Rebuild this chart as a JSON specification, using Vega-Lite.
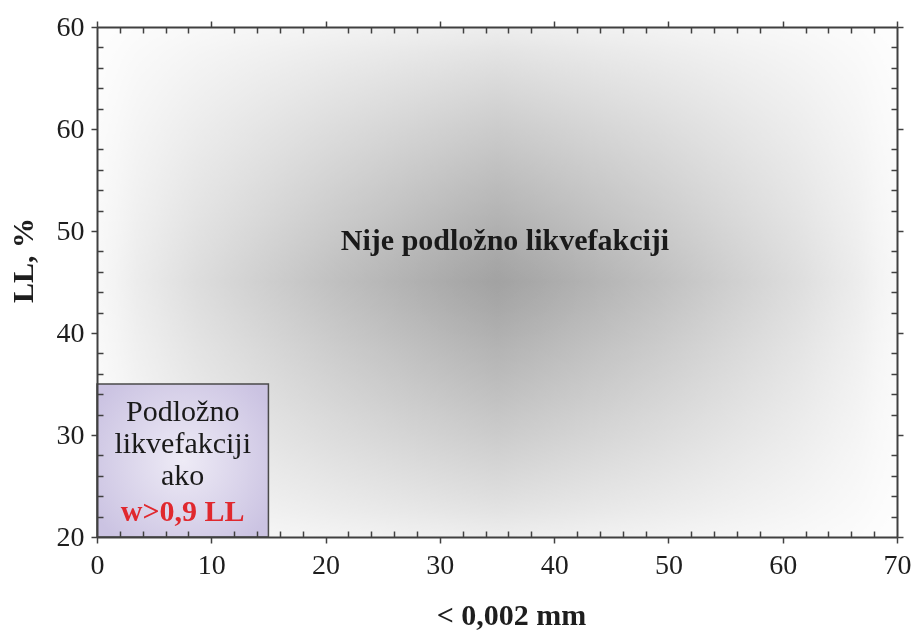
{
  "$schema": "https://vega.github.io/schema/vega-lite/v6.json",
  "width": 800,
  "height": 510,
  "autosize": {"type": "none"},
  "padding": {"left": 97, "top": 27, "right": 14, "bottom": 94},
  "background": "white",
  "config": {
    "view": {"stroke": null},
    "axis": {
      "grid": false,
      "zindex": 2,
      "domainColor": "#404040",
      "domainWidth": 2,
      "tickColor": "#404040",
      "tickWidth": 1.5,
      "labelFont": "Liberation Serif",
      "labelFontSize": 28,
      "labelColor": "#1e1e1e",
      "labelOverlap": false,
      "labelFlush": false,
      "titleFont": "Liberation Serif",
      "titleFontSize": 30,
      "titleFontWeight": "bold",
      "titleColor": "#1e1e1e"
    }
  },
  "datasets": {
    "zone": [{"x0": 0, "x1": 70, "y0": 20, "y1": 70}],
    "box": [{"x0": 0, "x1": 15, "y0": 20, "y1": 35}],
    "main_label": [{"label": "Nije podložno likvefakciji", "x": 35.7, "y": 48.1}],
    "box_lines": [
      {"label": "Podložno", "x": 7.5, "y": 31.4},
      {"label": "likvefakciji", "x": 7.5, "y": 28.25},
      {"label": "ako", "x": 7.5, "y": 25.05}
    ],
    "box_condition": [{"label": "w>0,9 LL", "x": 7.5, "y": 21.6}]
  },
  "layer": [
    {
      "data": {"name": "zone"},
      "mark": {
        "type": "rect",
        "fill": {
          "gradient": "linear",
          "x1": 0, "y1": 0, "x2": 1, "y2": 0,
          "stops": [
            {"offset": 0, "color": "#f3f3f3"},
            {"offset": 0.025, "color": "#ebebeb"},
            {"offset": 0.05, "color": "#e0e0e0"},
            {"offset": 0.075, "color": "#d8d8d8"},
            {"offset": 0.125, "color": "#c7c7c7"},
            {"offset": 0.2, "color": "#b2b2b2"},
            {"offset": 0.25, "color": "#a4a4a4"},
            {"offset": 0.3, "color": "#969696"},
            {"offset": 0.375, "color": "#838383"},
            {"offset": 0.45, "color": "#707070"},
            {"offset": 0.5, "color": "#656565"},
            {"offset": 0.55, "color": "#707070"},
            {"offset": 0.625, "color": "#838383"},
            {"offset": 0.7, "color": "#969696"},
            {"offset": 0.75, "color": "#a4a4a4"},
            {"offset": 0.8, "color": "#b2b2b2"},
            {"offset": 0.875, "color": "#c7c7c7"},
            {"offset": 0.925, "color": "#d8d8d8"},
            {"offset": 0.95, "color": "#e0e0e0"},
            {"offset": 0.975, "color": "#ebebeb"},
            {"offset": 1, "color": "#f3f3f3"}
          ]
        }
      },
      "encoding": {
        "x": {
          "field": "x0", "type": "quantitative",
          "scale": {"domain": [0, 70], "nice": false, "zero": false},
          "axis": {
            "orient": "bottom",
            "zindex": 2,
            "values": [0, 10, 20, 30, 40, 50, 60, 70],
            "tickSize": 6,
            "labelPadding": 8,
            "title": "< 0,002 mm",
            "titleX": 414,
            "titleY": 87,
            "titleAlign": "center",
            "titleBaseline": "alphabetic"
          }
        },
        "x2": {"field": "x1"},
        "y": {
          "field": "y0", "type": "quantitative",
          "scale": {"domain": [20, 70], "nice": false, "zero": false},
          "axis": {
            "orient": "left",
            "zindex": 2,
            "values": [20, 30, 40, 50, 60, 70],
            "labelExpr": "datum.value == 70 ? '60' : datum.label",
            "tickSize": 6,
            "labelPadding": 7,
            "title": "LL, %",
            "titleX": -74,
            "titleY": 233,
            "titleAlign": "center",
            "titleBaseline": "middle"
          }
        },
        "y2": {"field": "y1"}
      }
    },
    {
      "data": {"name": "zone"},
      "mark": {
        "type": "rect",
        "blend": "screen",
        "fill": {
          "gradient": "linear",
          "x1": 0, "y1": 0, "x2": 0, "y2": 1,
          "stops": [
            {"offset": 0, "color": "#e2e2e2"},
            {"offset": 0.025, "color": "#dadada"},
            {"offset": 0.05, "color": "#d1d1d1"},
            {"offset": 0.075, "color": "#cacaca"},
            {"offset": 0.125, "color": "#bdbdbd"},
            {"offset": 0.2, "color": "#aaaaaa"},
            {"offset": 0.25, "color": "#9e9e9e"},
            {"offset": 0.3, "color": "#929292"},
            {"offset": 0.375, "color": "#818181"},
            {"offset": 0.45, "color": "#6f6f6f"},
            {"offset": 0.5, "color": "#656565"},
            {"offset": 0.55, "color": "#6f6f6f"},
            {"offset": 0.625, "color": "#818181"},
            {"offset": 0.7, "color": "#929292"},
            {"offset": 0.75, "color": "#9e9e9e"},
            {"offset": 0.8, "color": "#aaaaaa"},
            {"offset": 0.875, "color": "#bdbdbd"},
            {"offset": 0.925, "color": "#cacaca"},
            {"offset": 0.95, "color": "#d1d1d1"},
            {"offset": 0.975, "color": "#dadada"},
            {"offset": 1, "color": "#e2e2e2"}
          ]
        }
      },
      "encoding": {
        "x": {
          "field": "x0", "type": "quantitative",
          "scale": {"domain": [0, 70], "nice": false, "zero": false},
          "axis": {
            "orient": "bottom",
            "zindex": 2,
            "values": [2, 4, 6, 8, 12, 14, 16, 18, 22, 24, 26, 28, 32, 34, 36, 38, 42, 44, 46, 48, 52, 54, 56, 58, 62, 64, 66, 68],
            "offset": -6,
            "tickSize": 6,
            "domain": false,
            "labels": false,
            "title": null
          }
        },
        "x2": {"field": "x1"},
        "y": {
          "field": "y0", "type": "quantitative",
          "scale": {"domain": [20, 70], "nice": false, "zero": false},
          "axis": {
            "orient": "left",
            "zindex": 2,
            "values": [22, 24, 26, 28, 32, 34, 36, 38, 42, 44, 46, 48, 52, 54, 56, 58, 62, 64, 66, 68],
            "offset": -6,
            "tickSize": 6,
            "domain": false,
            "labels": false,
            "title": null
          }
        },
        "y2": {"field": "y1"}
      }
    },
    {
      "data": {"name": "box"},
      "mark": {
        "type": "rect",
        "stroke": "#4a4a4a",
        "strokeWidth": 1.5,
        "fill": {
          "gradient": "radial",
          "x1": 0.5, "y1": 0.5, "r1": 0,
          "x2": 0.5, "y2": 0.5, "r2": 0.6,
          "stops": [
            {"offset": 0, "color": "#eeebf6"},
            {"offset": 1, "color": "#cbc3e2"}
          ]
        }
      },
      "encoding": {
        "x": {
          "field": "x0", "type": "quantitative",
          "scale": {"domain": [0, 70], "nice": false, "zero": false},
          "axis": {
            "orient": "top",
            "zindex": 2,
            "values": [0, 10, 20, 30, 40, 50, 60, 70],
            "tickSize": 6,
            "labels": false,
            "title": null
          }
        },
        "x2": {"field": "x1"},
        "y": {
          "field": "y0", "type": "quantitative",
          "scale": {"domain": [20, 70], "nice": false, "zero": false},
          "axis": {
            "orient": "right",
            "zindex": 2,
            "values": [20, 30, 40, 50, 60, 70],
            "tickSize": 6,
            "labels": false,
            "title": null
          }
        },
        "y2": {"field": "y1"}
      }
    },
    {
      "data": {"name": "main_label"},
      "mark": {
        "type": "text",
        "font": "Liberation Serif",
        "fontSize": 30,
        "fontWeight": "bold",
        "align": "center",
        "baseline": "alphabetic",
        "color": "#1a1a1a"
      },
      "encoding": {
        "x": {
          "field": "x", "type": "quantitative",
          "scale": {"domain": [0, 70], "nice": false, "zero": false},
          "axis": {
            "orient": "top",
            "zindex": 2,
            "values": [2, 4, 6, 8, 12, 14, 16, 18, 22, 24, 26, 28, 32, 34, 36, 38, 42, 44, 46, 48, 52, 54, 56, 58, 62, 64, 66, 68],
            "offset": -6,
            "tickSize": 6,
            "domain": false,
            "labels": false,
            "title": null
          }
        },
        "y": {
          "field": "y", "type": "quantitative",
          "scale": {"domain": [20, 70], "nice": false, "zero": false},
          "axis": {
            "orient": "right",
            "zindex": 2,
            "values": [22, 24, 26, 28, 32, 34, 36, 38, 42, 44, 46, 48, 52, 54, 56, 58, 62, 64, 66, 68],
            "offset": -6,
            "tickSize": 6,
            "domain": false,
            "labels": false,
            "title": null
          }
        },
        "text": {"field": "label"}
      }
    },
    {
      "data": {"name": "box_lines"},
      "mark": {
        "type": "text",
        "font": "Liberation Serif",
        "fontSize": 30,
        "align": "center",
        "baseline": "alphabetic",
        "color": "#1a1a1a"
      },
      "encoding": {
        "x": {"field": "x", "type": "quantitative", "scale": {"domain": [0, 70], "nice": false, "zero": false}, "axis": null},
        "y": {"field": "y", "type": "quantitative", "scale": {"domain": [20, 70], "nice": false, "zero": false}, "axis": null},
        "text": {"field": "label"}
      }
    },
    {
      "data": {"name": "box_condition"},
      "mark": {
        "type": "text",
        "font": "Liberation Serif",
        "fontSize": 30,
        "fontWeight": "bold",
        "align": "center",
        "baseline": "alphabetic",
        "color": "#e0282e"
      },
      "encoding": {
        "x": {"field": "x", "type": "quantitative", "scale": {"domain": [0, 70], "nice": false, "zero": false}, "axis": null},
        "y": {"field": "y", "type": "quantitative", "scale": {"domain": [20, 70], "nice": false, "zero": false}, "axis": null},
        "text": {"field": "label"}
      }
    }
  ],
  "resolve": {"axis": {"x": "independent", "y": "independent"}}
}
